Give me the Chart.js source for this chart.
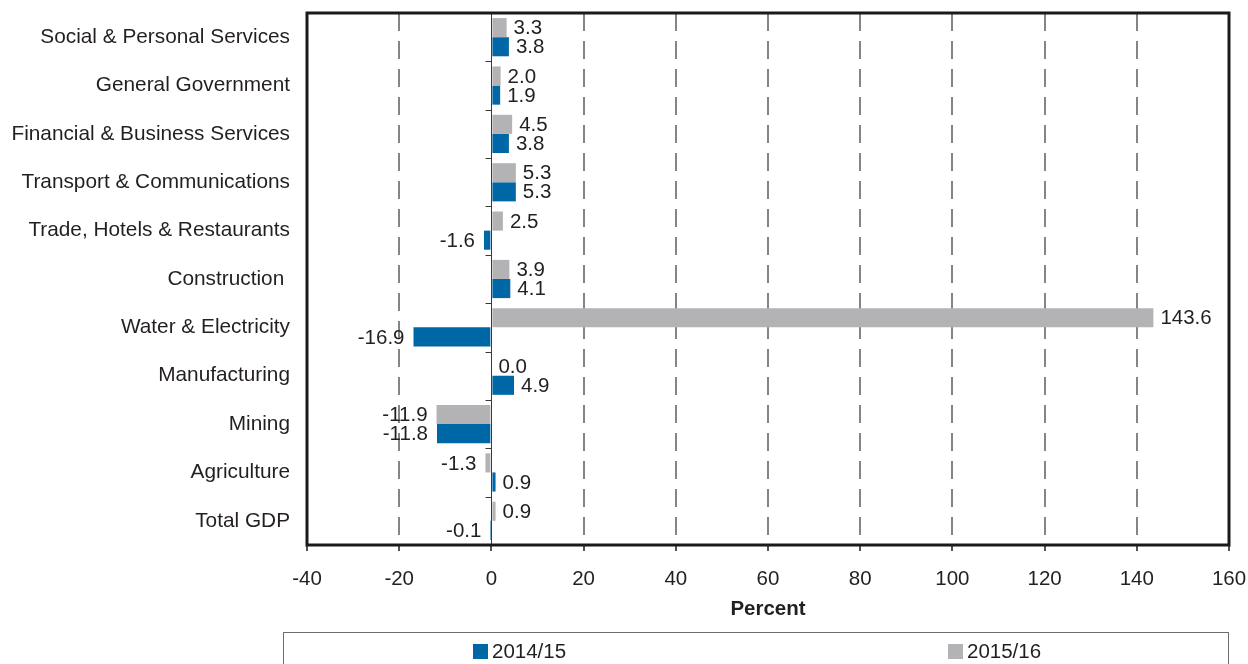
<!DOCTYPE html>
<html>
<head>
<meta charset="utf-8">
<script src="https://cdn.jsdelivr.net/npm/chart.js@4/dist/chart.umd.min.js"></script>
<style>
  html, body { margin: 0; padding: 0; background: #fff; }
  #wrap { position: relative; width: 1248px; height: 664px; overflow: hidden; }
  #c { position: absolute; left: 0; top: 0; }
  #legend {
    position: absolute; left: 283px; top: 632px; width: 946px; height: 44px;
    border: 1px solid #6d6d6d; box-sizing: border-box;
    font-family: "Liberation Sans", Arial, sans-serif; font-size: 20.5px; color: #231f20;
  }
  .item { position: absolute; top: 6px; height: 24px; line-height: 24px; white-space: nowrap; }
  .sw { display: inline-block; width: 15px; height: 15px; vertical-align: -1px; margin-right: 4px; }
</style>
</head>
<body>
<div id="wrap">
  <canvas id="c" width="1248" height="664"></canvas>
  <div id="legend">
    <div class="item" style="left:189px"><span class="sw" style="background:#0067a6"></span>2014/15</div>
    <div class="item" style="left:664px"><span class="sw" style="background:#b3b3b6"></span>2015/16</div>
  </div>
</div>
<script>
// Sectors, listed top to bottom
const sectors = [
  'Social & Personal Services',
  'General Government',
  'Financial & Business Services',
  'Transport & Communications',
  'Trade, Hotels & Restaurants',
  'Construction ',
  'Water & Electricity',
  'Manufacturing',
  'Mining',
  'Agriculture',
  'Total GDP'
];

// Real growth, percent
const growth2014_15 = [3.8, 1.9, 3.8, 5.3, -1.6, 4.1, -16.9, 4.9, -11.8, 0.9, -0.1];
const growth2015_16 = [3.3, 2.0, 4.5, 5.3, 2.5, 3.9, 143.6, 0.0, -11.9, -1.3, 0.9];

const xTicks = [-40, -20, 0, 20, 40, 60, 80, 100, 120, 140, 160];

const BLUE = '#0067a6';
const GREY = '#b3b3b6';
const TEXT = '#231f20';
const FONT = '"Liberation Sans", Arial, sans-serif';
const FSIZE = 20.5;

// Value labels beside each bar, plus the zero axis and the plot frame
const decorations = {
  id: 'decorations',
  beforeDatasetsDraw(chart) {
    const {ctx, chartArea: a, scales: {x}} = chart;
    const x0 = Math.round(x.getPixelForValue(0)) + 0.5;
    ctx.save();
    ctx.strokeStyle = '#3a3a3a';
    ctx.lineWidth = 1;
    ctx.beginPath();
    ctx.moveTo(x0, a.top);
    ctx.lineTo(x0, a.bottom);
    // small category ticks on the zero axis
    const step = (a.bottom - a.top) / sectors.length;
    for (let i = 1; i < sectors.length; i++) {
      const yy = Math.round(a.top + i * step) + 0.5;
      ctx.moveTo(x0 - 6, yy);
      ctx.lineTo(x0, yy);
    }
    ctx.stroke();
    ctx.restore();
  },
  afterDatasetsDraw(chart) {
    const {ctx, chartArea: a} = chart;
    ctx.save();
    ctx.font = FSIZE + 'px ' + FONT;
    ctx.fillStyle = TEXT;
    ctx.textBaseline = 'middle';
    chart.data.datasets.forEach((ds, di) => {
      const meta = chart.getDatasetMeta(di);
      meta.data.forEach((bar, i) => {
        const v = ds.data[i];
        const txt = v.toFixed(1);
        if (v >= 0) {
          ctx.textAlign = 'left';
          ctx.fillText(txt, Math.max(bar.x, bar.base) + 7, bar.y + 1);
        } else {
          ctx.textAlign = 'right';
          ctx.fillText(txt, Math.min(bar.x, bar.base) - 9, bar.y + 1);
        }
      });
    });
    ctx.strokeStyle = '#1a1a1a';
    ctx.lineWidth = 3;
    ctx.strokeRect(a.left, a.top, a.right - a.left, a.bottom - a.top);
    ctx.restore();
  }
};

new Chart(document.getElementById('c'), {
  type: 'bar',
  data: {
    labels: sectors,
    datasets: [
      { label: '2015/16', data: growth2015_16, backgroundColor: GREY },
      { label: '2014/15', data: growth2014_15, backgroundColor: BLUE }
    ]
  },
  options: {
    indexAxis: 'y',
    responsive: false,
    animation: false,
    layout: { padding: { left: 0, top: 13, right: 19, bottom: 41 } },
    datasets: { bar: { categoryPercentage: 0.79, barPercentage: 1.0 } },
    plugins: { legend: { display: false }, tooltip: { enabled: false } },
    scales: {
      x: {
        type: 'linear',
        min: -40, max: 160,
        afterBuildTicks: s => { s.ticks = xTicks.map(v => ({ value: v })); },
        afterFit: s => { s.height = 78; s.paddingLeft = 0; s.paddingRight = 0; },
        grid: {
          color: ctx => (ctx.tick && ctx.tick.value === 0) ? 'rgba(0,0,0,0)' : '#858585',
          lineWidth: 2,
          tickColor: '#1a1a1a',
          tickLength: 6,
          tickWidth: 1.5
        },
        border: { display: false, dash: [18, 10], dashOffset: 0 },
        ticks: { color: TEXT, font: { family: FONT, size: FSIZE }, padding: 16 },
        title: {
          display: true, text: 'Percent', color: TEXT,
          font: { family: FONT, size: FSIZE, weight: 'bold' },
          padding: { top: 0, bottom: 1 }
        }
      },
      y: {
        afterFit: s => { s.width = 307; s.paddingTop = 0; s.paddingBottom = 0; },
        grid: { display: false, drawTicks: false },
        border: { display: false },
        ticks: { color: TEXT, font: { family: FONT, size: 20.8 }, padding: 17, autoSkip: false }
      }
    }
  },
  plugins: [decorations]
});
</script>
</body>
</html>
